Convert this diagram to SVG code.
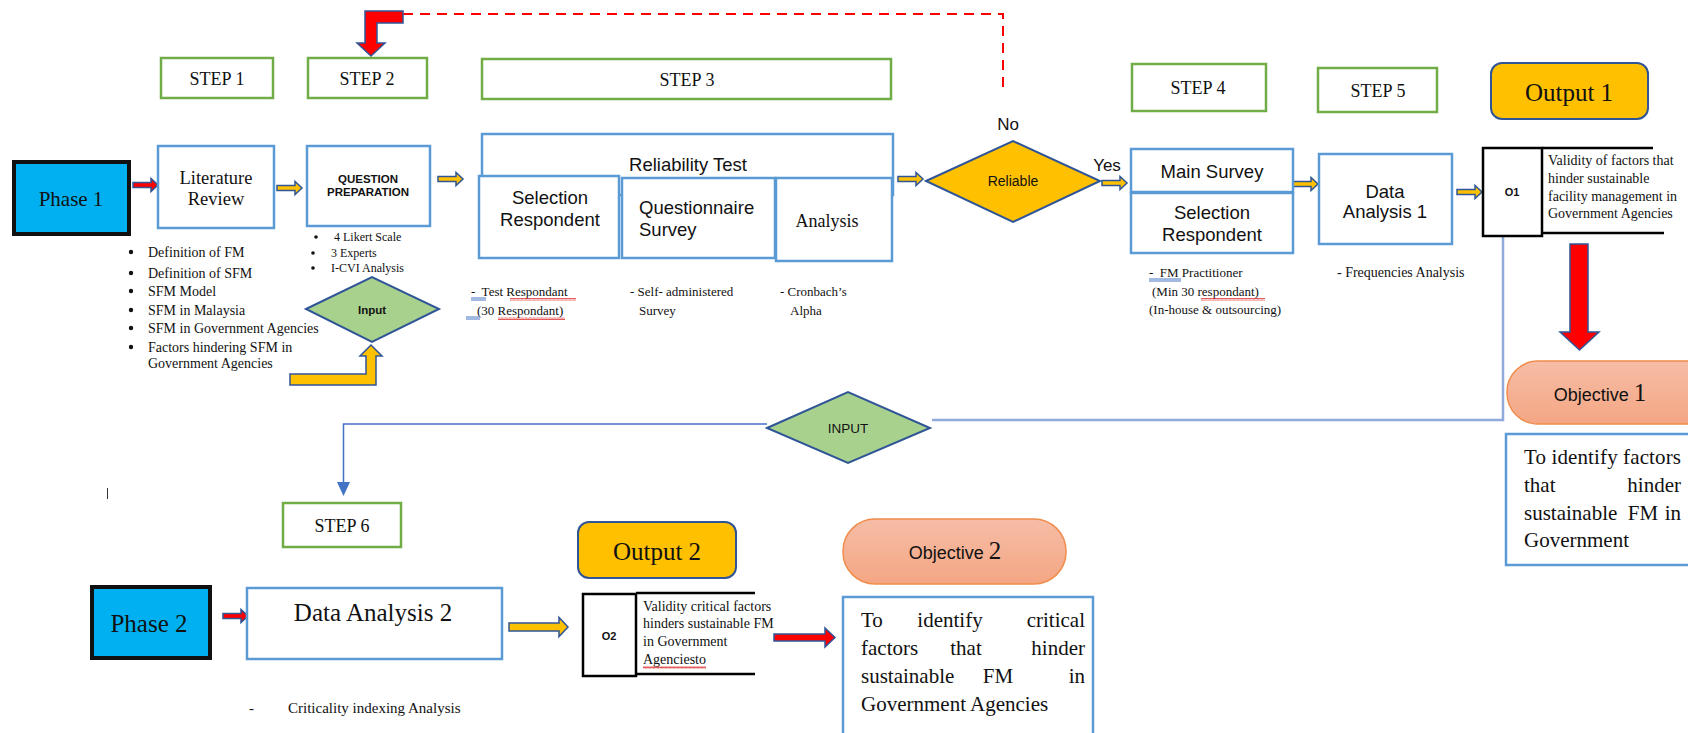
<svg xmlns="http://www.w3.org/2000/svg" width="1688" height="733" viewBox="0 0 1688 733">
<style>
.bg{fill:#fff}
.step{fill:#fff;stroke:#70AD47;stroke-width:2.5}
.box{fill:#fff;stroke:#5B9BD5;stroke-width:2.5}
.phase{fill:#00B0F0;stroke:#111;stroke-width:4}
.out{fill:#FFC000;stroke:#2F5597;stroke-width:2}
.obj{fill:url(#peach);stroke:#F08C4C;stroke-width:1.5}
.dia-y{fill:#FFC000;stroke:#2F5597;stroke-width:2}
.dia-g{fill:#A9D18E;stroke:#2F5597;stroke-width:2}
.ob{fill:#fff;stroke:#000;stroke-width:2.5}
.ya{fill:#FFC000;stroke:#2F5597;stroke-width:1.5}
.ra{fill:#FF0000;stroke:#2F5597;stroke-width:1.5}
.serif{font-family:"Liberation Serif","Times New Roman",serif;fill:#111}
.sans{font-family:"Liberation Sans",Arial,sans-serif;fill:#111}
.c{text-anchor:middle}
.e{text-anchor:end}
.conn{fill:none;stroke:#4472C4;stroke-width:1.5}
.conn2{fill:none;stroke:#8FAADC;stroke-width:2.5}
.ul{fill:none;stroke:#4472C4;stroke-width:1}
</style>
<defs>
<linearGradient id="peach" x1="0" y1="0" x2="0" y2="1">
<stop offset="0" stop-color="#F6BDA6"/>
<stop offset="1" stop-color="#F4A683"/>
</linearGradient>
<path id="sa" d="M0,-2.5 H18 V-6.5 L25,0 L18,6.5 V2.5 H0 Z"/>
<pattern id="wave" width="4" height="3" patternUnits="userSpaceOnUse">
<path d="M0,2.5 L1,0.5 L2,2.5 L3,0.5 L4,2.5" fill="none" stroke="#E03030" stroke-width="0.8"/>
</pattern>
</defs>
<rect class="bg" x="0" y="0" width="1688" height="733"/>

<g id="connectors">
<path d="M403,14 H1003 V93" fill="none" stroke="#FF0000" stroke-width="2" stroke-dasharray="10,7"/>
<path class="ra" d="M403,11 L365,11 L365,43 L357,43 L371,56 L385,43 L377,43 L377,23 L403,23 Z"/>
<path class="ya" stroke-width="2" d="M290,374 L366,374 L366,356 L360,356 L371,345 L382,356 L376,356 L376,385 L290,385 Z"/>
<use href="#sa" class="ra" x="133" y="185"/>
<use href="#sa" class="ya" x="277" y="188"/>
<use href="#sa" class="ya" x="438" y="179"/>
<use href="#sa" class="ya" x="898" y="179"/>
<use href="#sa" class="ya" x="1102" y="183"/>
<use href="#sa" class="ya" x="1293" y="184"/>
<use href="#sa" class="ya" x="1457" y="192"/>
<use href="#sa" class="ra" x="223" y="616"/>
<path class="ya" d="M509,623 H559 V617.5 L568,627 L559,636.5 V631 H509 Z"/>
<path class="ra" d="M774,634 H825 V628 L835,637.5 L825,647 V641 H774 Z"/>
<path class="ra" stroke-width="2" d="M1570,244 H1588 V332 H1599 L1579.5,350 L1560,332 H1570 Z"/>
<path class="conn2" d="M1503,236 V420 H932"/>
<path class="conn" d="M767,424 H343.5 V483"/>
<path d="M337,482 L350,482 L343.5,496 Z" fill="#4472C4"/>
</g>

<g id="step1"><rect class="step" x="161" y="58" width="112" height="40"/><text class="serif c" x="217" y="85" font-size="18">STEP 1</text></g>
<g id="step2"><rect class="step" x="308" y="58" width="119" height="40"/><text class="serif c" x="367" y="85" font-size="18">STEP 2</text></g>
<g id="step3"><rect class="step" x="482" y="59" width="409" height="40"/><text class="serif c" x="687" y="86" font-size="18">STEP 3</text></g>
<g id="step4"><rect class="step" x="1132" y="64" width="134" height="47"/><text class="serif c" x="1198" y="94" font-size="18">STEP 4</text></g>
<g id="step5"><rect class="step" x="1318" y="68" width="119" height="44"/><text class="serif c" x="1378" y="97" font-size="18">STEP 5</text></g>
<g id="step6"><rect class="step" x="283" y="503" width="118" height="44"/><text class="serif c" x="342" y="532" font-size="18">STEP 6</text></g>

<g id="phase1"><rect class="phase" x="14" y="162" width="115" height="72"/><text class="serif c" x="71" y="206" font-size="21">Phase 1</text></g>

<g id="literature"><rect class="box" x="158" y="146" width="116" height="82"/>
<text class="serif c" x="216" y="184" font-size="18.5">Literature</text>
<text class="serif c" x="216" y="205" font-size="18.5">Review</text>
<g class="serif" font-size="14">
<circle cx="131" cy="252" r="2.2" fill="#111"/><text x="148" y="257">Definition of FM</text>
<circle cx="131" cy="273" r="2.2" fill="#111"/><text x="148" y="278">Definition of SFM</text>
<circle cx="131" cy="291" r="2.2" fill="#111"/><text x="148" y="296">SFM Model</text>
<circle cx="131" cy="310" r="2.2" fill="#111"/><text x="148" y="315">SFM in Malaysia</text>
<circle cx="131" cy="328" r="2.2" fill="#111"/><text x="148" y="333">SFM in Government Agencies</text>
<circle cx="131" cy="347" r="2.2" fill="#111"/><text x="148" y="352">Factors hindering SFM in</text>
<text x="148" y="368">Government Agencies</text>
</g></g>

<g id="question"><rect class="box" x="307" y="146" width="123" height="80"/>
<text class="sans c" x="368" y="183" font-size="11.5" font-weight="bold">QUESTION</text>
<text class="sans c" x="368" y="196" font-size="11.5" font-weight="bold">PREPARATION</text>
<g class="serif" font-size="12">
<circle cx="316" cy="237" r="1.8" fill="#111"/><text x="334" y="241">4 Likert Scale</text>
<circle cx="313" cy="253" r="1.8" fill="#111"/><text x="331" y="257">3 Experts</text>
<circle cx="313" cy="268" r="1.8" fill="#111"/><text x="331" y="272">I-CVI Analysis</text>
</g></g>

<g id="input1"><polygon class="dia-g" points="306,309 372,277 439,309 372,342"/><text class="sans c" x="372" y="314" font-size="11.5" font-weight="bold">Input</text></g>

<g id="reliability">
<rect class="box" x="482" y="134" width="411" height="61"/>
<text class="sans c" x="688" y="171" font-size="18.5">Reliability Test</text>
<rect class="box" x="479" y="176" width="140" height="82"/>
<text class="sans c" x="550" y="204" font-size="18.5">Selection</text>
<text class="sans c" x="550" y="226" font-size="18.5">Respondent</text>
<rect class="box" x="622" y="178" width="153" height="80"/>
<text class="sans" x="639" y="214" font-size="18.5">Questionnaire</text>
<text class="sans" x="639" y="236" font-size="18.5">Survey</text>
<rect class="box" x="776" y="178" width="116" height="83"/>
<text class="serif c" x="827" y="227" font-size="18">Analysis</text>
<g class="serif" font-size="13">
<text x="471" y="296" xml:space="preserve">-  Test Respondant</text>
<text x="477" y="315">(30 Respondant)</text>
<text x="630" y="296">- Self- administered</text>
<text x="639" y="315">Survey</text>
<text x="780" y="296">- Cronbach’s</text>
<text x="790" y="315">Alpha</text>
</g>
<path class="ul" d="M471,298 H486 M471,300 H486 M466,317 H480 M466,319 H480"/>
<rect x="510" y="298" width="66" height="3" fill="url(#wave)"/>
<rect x="498" y="317" width="67" height="3" fill="url(#wave)"/>
</g>

<g id="reliable"><polygon class="dia-y" points="926,181 1013,141 1100,181 1013,222"/>
<text class="sans c" x="1013" y="186" font-size="14">Reliable</text>
<text class="sans c" x="1008" y="130" font-size="17">No</text>
<text class="sans c" x="1107" y="171" font-size="17">Yes</text></g>

<g id="mainsurvey">
<rect class="box" x="1131" y="149" width="162" height="43"/>
<text class="sans c" x="1212" y="178" font-size="18.5">Main Survey</text>
<rect class="box" x="1131" y="193" width="162" height="60"/>
<text class="sans c" x="1212" y="219" font-size="18.5">Selection</text>
<text class="sans c" x="1212" y="241" font-size="18.5">Respondent</text>
<g class="serif" font-size="13">
<text x="1149" y="277" xml:space="preserve">-  FM Practitioner</text>
<text x="1152" y="296">(Min 30 respondant)</text>
<text x="1149" y="314">(In-house &amp; outsourcing)</text>
</g>
<path class="ul" d="M1149,279 H1181 M1149,281 H1181"/>
<rect x="1201" y="298" width="64" height="3" fill="url(#wave)"/>
</g>

<g id="analysis1"><rect class="box" x="1319" y="154" width="133" height="90"/>
<text class="sans c" x="1385" y="198" font-size="18.5">Data</text>
<text class="sans c" x="1385" y="218" font-size="18.5">Analysis 1</text>
<text class="serif" x="1337" y="277" font-size="14">- Frequencies Analysis</text></g>

<g id="output1"><rect class="out" x="1491" y="63" width="157" height="56" rx="11"/>
<text class="serif c" x="1569" y="101" font-size="25">Output 1</text></g>

<g id="o1"><rect class="ob" x="1483" y="148" width="59" height="88"/>
<path d="M1542,148 H1653 M1542,233 H1664" stroke="#000" stroke-width="2.5" fill="none"/>
<text class="sans c" x="1512" y="196" font-size="11" font-weight="bold">O1</text>
<g class="serif" font-size="14">
<text x="1548" y="165">Validity of factors that</text>
<text x="1548" y="183">hinder sustainable</text>
<text x="1548" y="201">facility management in</text>
<text x="1548" y="218">Government Agencies</text>
</g></g>

<g id="objective1"><rect class="obj" x="1507" y="361" width="230" height="63" rx="31"/>
<text x="1600" y="401" class="c" font-size="18"><tspan class="sans">Objective </tspan><tspan class="serif" font-size="25">1</tspan></text>
<rect class="box" x="1506" y="434" width="200" height="131"/>
<g class="serif" font-size="21">
<text x="1524" y="464" textLength="157" lengthAdjust="spacing">To identify factors</text>
<text x="1524" y="492">that</text><text class="e" x="1681" y="492">hinder</text>
<text x="1524" y="520">sustainable</text><text class="c" x="1643" y="520">FM</text><text class="e" x="1681" y="520">in</text>
<text x="1524" y="547">Government</text>
</g></g>

<g id="input2"><polygon class="dia-g" points="767,428 848,392 930,428 848,463"/><text class="sans c" x="848" y="433" font-size="13.5">INPUT</text></g>

<path d="M107.5,488 V499" stroke="#333" stroke-width="1"/>

<g id="phase2"><rect class="phase" x="92" y="587" width="118" height="71"/><text class="serif c" x="149" y="632" font-size="25">Phase 2</text></g>

<g id="analysis2"><rect class="box" x="247" y="588" width="255" height="71"/>
<text class="serif c" x="373" y="621" font-size="25">Data Analysis 2</text>
<text class="serif" x="249" y="713" font-size="15">-</text>
<text class="serif" x="288" y="713" font-size="15">Criticality indexing Analysis</text></g>

<g id="output2"><rect class="out" x="578" y="522" width="158" height="56" rx="11"/>
<text class="serif c" x="657" y="560" font-size="25">Output 2</text></g>

<g id="o2"><rect class="ob" x="583" y="594" width="53" height="82"/>
<path d="M636,593 H755 M636,674 H755" stroke="#000" stroke-width="2.5" fill="none"/>
<text class="sans c" x="609" y="640" font-size="11" font-weight="bold">O2</text>
<g class="serif" font-size="14">
<text x="643" y="611">Validity critical factors</text>
<text x="643" y="628">hinders sustainable FM</text>
<text x="643" y="646">in Government</text>
<text x="643" y="664">Agenciesto</text>
</g>
<rect x="643" y="666" width="63" height="3" fill="url(#wave)"/>
</g>

<g id="objective2"><rect class="obj" x="843" y="519" width="223" height="65" rx="32"/>
<text x="955" y="559" class="c" font-size="18"><tspan class="sans">Objective </tspan><tspan class="serif" font-size="25">2</tspan></text>
<rect class="box" x="843" y="597" width="250" height="145"/>
<g class="serif" font-size="21">
<text x="861" y="627">To</text><text class="c" x="950" y="627">identify</text><text class="e" x="1085" y="627">critical</text>
<text x="861" y="655">factors</text><text class="c" x="966" y="655">that</text><text class="e" x="1085" y="655">hinder</text>
<text x="861" y="683">sustainable</text><text class="c" x="998" y="683">FM</text><text class="e" x="1085" y="683">in</text>
<text x="861" y="711">Government Agencies</text>
</g></g>
</svg>
